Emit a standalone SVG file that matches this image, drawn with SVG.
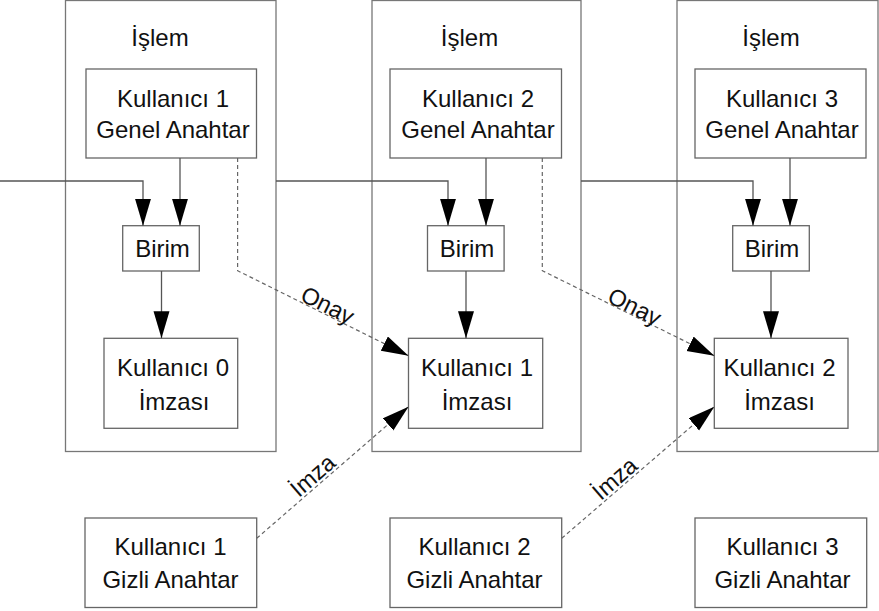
<svg xmlns="http://www.w3.org/2000/svg" width="879" height="611" viewBox="0 0 879 611">
  <style>
    .frame { fill: #fff; stroke: #777; stroke-width: 1.3; }
    .box { fill: #fff; stroke: #666; stroke-width: 1.3; }
    .t { font-family: "Liberation Sans", Arial, sans-serif; font-size: 24px; fill: #111; text-anchor: middle; }
    .lbl { font-family: "Liberation Sans", Arial, sans-serif; font-size: 23.5px; fill: #111; text-anchor: middle; }
    .solid { fill: none; stroke: #555; stroke-width: 1.3; }
    .dash { fill: none; stroke: #666; stroke-width: 1.2; stroke-dasharray: 4 3; }
  </style>
  <defs>
    <marker id="arr" markerUnits="userSpaceOnUse" markerWidth="28" markerHeight="18" refX="27" refY="8" orient="auto">
      <path d="M0,0 L27,8 L0,16 z" fill="#000" stroke="none"/>
    </marker>
  </defs>
  <rect width="879" height="611" fill="#fff"/>

  <!-- containers -->
  <g id="proc1">
    <rect class="frame" x="65.5" y="0.5" width="210.5" height="451"/>
    <text class="t" x="160" y="45.7">İşlem</text>
  </g>
  <g id="proc2">
    <rect class="frame" x="372" y="0.5" width="209" height="451"/>
    <text class="t" x="469.5" y="45.7">İşlem</text>
  </g>
  <g id="proc3">
    <rect class="frame" x="677" y="0.5" width="201" height="451"/>
    <text class="t" x="771" y="45.7">İşlem</text>
  </g>

  <!-- public keys -->
  <g id="pub1">
    <rect class="box" x="86" y="69" width="170.5" height="89"/>
    <text class="t" x="173" y="106.7">Kullanıcı 1</text>
    <text class="t" x="173" y="138.3">Genel Anahtar</text>
  </g>
  <g id="pub2">
    <rect class="box" x="390" y="69" width="171.5" height="89"/>
    <text class="t" x="478" y="106.7">Kullanıcı 2</text>
    <text class="t" x="478" y="138.3">Genel Anahtar</text>
  </g>
  <g id="pub3">
    <rect class="box" x="695" y="69" width="171" height="89"/>
    <text class="t" x="782" y="106.7">Kullanıcı 3</text>
    <text class="t" x="782" y="138.3">Genel Anahtar</text>
  </g>

  <!-- Birim -->
  <g id="birim1">
    <rect class="box" x="122.7" y="225.7" width="76.6" height="45.3"/>
    <text class="t" x="162.5" y="257.3">Birim</text>
  </g>
  <g id="birim2">
    <rect class="box" x="427.5" y="225.7" width="76.6" height="45.3"/>
    <text class="t" x="467" y="257.3">Birim</text>
  </g>
  <g id="birim3">
    <rect class="box" x="732.7" y="225.7" width="76.6" height="45.3"/>
    <text class="t" x="772" y="257.3">Birim</text>
  </g>

  <!-- signatures -->
  <g id="sig0">
    <rect class="box" x="104" y="338.3" width="133.7" height="90"/>
    <text class="t" x="173" y="376">Kullanıcı 0</text>
    <text class="t" x="174" y="410">İmzası</text>
  </g>
  <g id="sig1">
    <rect class="box" x="408.5" y="338.3" width="134.2" height="90"/>
    <text class="t" x="477" y="376">Kullanıcı 1</text>
    <text class="t" x="477" y="410">İmzası</text>
  </g>
  <g id="sig2">
    <rect class="box" x="714.3" y="338.3" width="133.7" height="90"/>
    <text class="t" x="779.5" y="376">Kullanıcı 2</text>
    <text class="t" x="779.5" y="410">İmzası</text>
  </g>

  <!-- private keys -->
  <g id="priv1">
    <rect class="box" x="85" y="518" width="171.7" height="89.5"/>
    <text class="t" x="170.5" y="555">Kullanıcı 1</text>
    <text class="t" x="170.5" y="588.3">Gizli Anahtar</text>
  </g>
  <g id="priv2">
    <rect class="box" x="390" y="518" width="171.7" height="89.5"/>
    <text class="t" x="474.5" y="555">Kullanıcı 2</text>
    <text class="t" x="474.5" y="588.3">Gizli Anahtar</text>
  </g>
  <g id="priv3">
    <rect class="box" x="695" y="518" width="171.7" height="89.5"/>
    <text class="t" x="782.5" y="555">Kullanıcı 3</text>
    <text class="t" x="782.5" y="588.3">Gizli Anahtar</text>
  </g>

  <!-- connectors -->
  <g id="connectors">
    <path class="solid" d="M0,181 H143 V225.7" marker-end="url(#arr)"/>
    <path class="solid" d="M276,181 H448 V225.7" marker-end="url(#arr)"/>
    <path class="solid" d="M581,181 H753 V225.7" marker-end="url(#arr)"/>

    <path class="solid" d="M180,158 V225.7" marker-end="url(#arr)"/>
    <path class="solid" d="M486,158 V225.7" marker-end="url(#arr)"/>
    <path class="solid" d="M790,158 V225.7" marker-end="url(#arr)"/>

    <path class="solid" d="M161.5,271 V338.3" marker-end="url(#arr)"/>
    <path class="solid" d="M466,271 V338.3" marker-end="url(#arr)"/>
    <path class="solid" d="M771,271 V338.3" marker-end="url(#arr)"/>

    <path class="dash" d="M237.6,158 V270.7 L408.5,355.7" marker-end="url(#arr)"/>
    <path class="dash" d="M542.3,158 V270.7 L714.3,355.7" marker-end="url(#arr)"/>

    <path class="dash" d="M256.7,538.3 L408.5,406.7" marker-end="url(#arr)"/>
    <path class="dash" d="M561.7,538.3 L714.3,406.7" marker-end="url(#arr)"/>

    <text class="lbl" transform="translate(324,312.5) rotate(26.6)">Onay</text>
    <text class="lbl" transform="translate(631,314) rotate(26.6)">Onay</text>
    <text class="lbl" transform="translate(318,481.5) rotate(-40.9)">İmza</text>
    <text class="lbl" transform="translate(620,484.5) rotate(-40.9)">İmza</text>
  </g>
</svg>
